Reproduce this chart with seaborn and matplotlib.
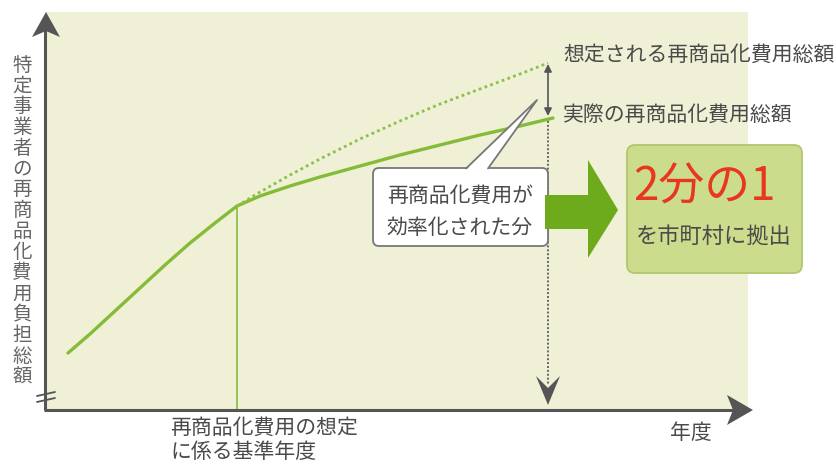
import matplotlib
matplotlib.use("Agg")
import matplotlib.pyplot as plt
import seaborn as sns
import pandas as pd
from matplotlib.patches import Polygon, FancyBboxPatch, Rectangle

# ---- data (diagram space, y grows downward) ----
actual_x = [68, 90, 115, 140, 165, 190, 215, 237, 260, 290, 320, 360, 400, 440, 480, 520, 553]
actual_y = [353, 334, 311, 288, 265, 243, 223, 206, 196, 186, 177, 166, 155, 145, 135, 126, 118]
expected_x = [237, 260, 290, 320, 360, 400, 440, 480, 520, 548]
expected_y = [206, 192, 175, 159, 139, 121, 104, 89, 74, 63]
base_year_x = 237
target_year_x = 548

y_label = "特定事業者の再商品化費用負担総額"
label_expected = "想定される再商品化費用総額"
label_actual = "実際の再商品化費用総額"
callout_lines = ["再商品化費用が", "効率化された分"]
box_big = "2分の1"
box_small = "を市町村に拠出"
x_label_base = ["再商品化費用の想定", "に係る基準年度"]
x_label_end = "年度"

sns.set_theme(style="white")
plt.rcParams["font.family"] = ["Noto Sans CJK JP", "DejaVu Sans"]

W, H = 837, 467
fig = plt.figure(figsize=(W / 100, H / 100), dpi=100)
ax = fig.add_axes([0, 0, 1, 1])

AX_COL = "#555555"
GREEN = "#86bb38"
TXT = "#4a4a4a"

# background panel
ax.add_patch(Rectangle((45, 12), 703, 398, fc="#eff0d6", ec="none", zorder=0))

# curves via seaborn
df_a = pd.DataFrame({"x": actual_x, "y": actual_y})
df_e = pd.DataFrame({"x": expected_x, "y": expected_y})
sns.lineplot(data=df_a, x="x", y="y", ax=ax, color=GREEN, lw=2.4, sort=False, zorder=3)
sns.lineplot(data=df_e, x="x", y="y", ax=ax, color="#8cc04a", lw=2.0, sort=False,
             linestyle=(0, (1, 1.2)), zorder=3)
ax.set_xlim(0, W)
ax.set_ylim(H, 0)
ax.axis("off")

# base-year vertical line
ax.plot([base_year_x, base_year_x], [actual_y[actual_x.index(base_year_x)], 410],
        color="#8cc04a", lw=1.3, zorder=2)

# axes
ax.plot([45, 45], [410, 30], color=AX_COL, lw=2.2, zorder=4, solid_capstyle="butt")
ax.plot([44, 735], [410, 410], color=AX_COL, lw=2.2, zorder=4, solid_capstyle="butt")
ax.add_patch(Polygon([(46, 12), (32, 37), (46, 31), (60, 37)], closed=True, fc=AX_COL, ec="none", zorder=5))
ax.add_patch(Polygon([(753, 410), (727, 395), (733, 410), (727, 425)], closed=True, fc=AX_COL, ec="none", zorder=5))

# axis break marks
ax.plot([37, 55], [396, 392], color=AX_COL, lw=1.3, zorder=5)
ax.plot([37, 55], [402, 398], color=AX_COL, lw=1.3, zorder=5)

# dotted vertical to target year with down arrow
ax.plot([target_year_x, target_year_x], [121, 385], color="#666666", lw=1.4,
        linestyle=(0, (1, 1)), zorder=2)
ax.add_patch(Polygon([(target_year_x, 405), (target_year_x - 12, 376), (target_year_x, 388),
                      (target_year_x + 12, 376)], closed=True, fc=AX_COL, ec="none", zorder=5))

# double arrow between expected and actual
ax.annotate("", xy=(target_year_x, expected_y[-1] + 1), xytext=(target_year_x, actual_y[-1] - 2),
            arrowprops=dict(arrowstyle="<|-|>", color=AX_COL, lw=1.2, mutation_scale=11,
                            shrinkA=0, shrinkB=0), zorder=5)

# callout
ax.add_patch(FancyBboxPatch((373, 168), 175, 78, boxstyle="round,pad=0,rounding_size=6",
                            fc="white", ec="#777777", lw=1.3, zorder=6))
ax.add_patch(Polygon([(466, 170), (537, 100), (488, 170)], closed=True, fc="white", ec="none", zorder=7))
ax.plot([466, 537, 488], [168.5, 100, 168.5], color="#777777", lw=1.3, zorder=7)
ax.text(460, 196, callout_lines[0], ha="center", va="center", fontsize=15, color=TXT, zorder=8)
ax.text(460, 228, callout_lines[1], ha="center", va="center", fontsize=15, color=TXT, zorder=8)

# big green arrow
ax.add_patch(Polygon([(545, 195), (588, 195), (588, 160), (618, 210), (588, 258), (588, 229), (545, 229)],
                     closed=True, fc="#6eab1c", ec="none", zorder=6))

# result box
ax.add_patch(FancyBboxPatch((627, 145), 175, 128, boxstyle="round,pad=0,rounding_size=8",
                            fc="#cbdd8c", ec="#b0c76c", lw=1.3, zorder=6))
ax.text(704, 187, box_big, ha="center", va="center", fontsize=33, color="#e8361f", zorder=7)
ax.text(714, 236, box_small, ha="center", va="center", fontsize=16, color=TXT, zorder=7)

# curve labels
ax.text(563, 55, label_expected, ha="left", va="center", fontsize=15, color=TXT, zorder=7)
ax.text(563, 115, label_actual, ha="left", va="center", fontsize=15, color=TXT, zorder=7)

# y label (vertical, stacked)
for i, ch in enumerate(y_label):
    ax.text(22, 65 + 20.8 * i, ch, ha="center", va="center", fontsize=14, color="#666666")

# x labels
ax.text(170, 428, x_label_base[0], ha="left", va="center", fontsize=15, color=TXT)
ax.text(170, 452, x_label_base[1], ha="left", va="center", fontsize=15, color=TXT)
ax.text(670, 433, x_label_end, ha="left", va="center", fontsize=15, color=TXT)

fig.savefig("out.png", dpi=100)
